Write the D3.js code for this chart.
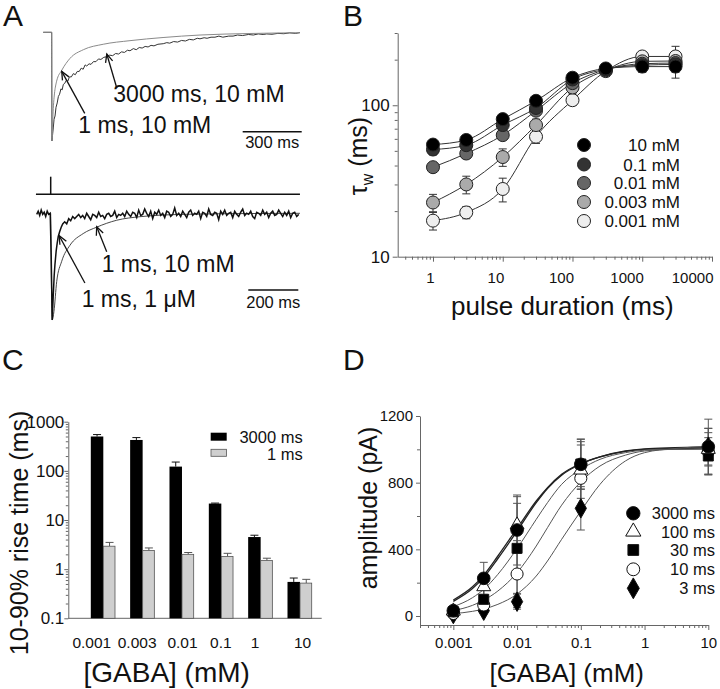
<!DOCTYPE html>
<html>
<head>
<meta charset="utf-8">
<script src="https://cdn.jsdelivr.net/npm/d3@7"></script>
<style>
  body { margin: 0; background: #fff; }
  svg { font-family: "Liberation Sans", Arial, Helvetica, sans-serif; }
</style>
</head>
<body>
<svg id="fig" width="720" height="689"></svg>
<script>
////////////////////////////////////////////////////////////////////////
// Data

// Panel A - traces, [time (ms), downward deflection in % of peak]
let traceTopFast = [[-43,0],[0,0],[1,100],[8,70],[25,45],[51,35],[93,24],[161,16],[262,11],
  [398,7.7],[566,4.8],[754,2.5],[1008,1.1],[1262,0.4]];
let traceTopSlow = [[-43,0],[0,0],[1,100],[4,95],[8,88],[12,80],[17,77],[22,69],[28,65],[34,59],
  [40,57],[47,52],[53,53],[59,48],[66,47],[75,44],[82,45],[90,41],[100,41],[110,38],[120,39],
  [130,36],[140,36],[150,33],[160,34],[170,30],[178,31],[190,29],[200,29.5],[212,27],[225,27],
  [238,24.5],[250,25],[265,23],[280,22.5],[295,21],[310,21.5],[325,19.5],[340,20],[355,18],
  [370,18.5],[385,16.5],[398,17],[415,15],[430,16],[445,14],[460,14.5],[475,13],[490,13.5],
  [505,12],[520,12.5],[540,11],[567,10.5],[585,9.5],[600,10],[620,8.5],[640,9],[660,7.5],
  [680,8],[700,6.5],[720,7],[740,5.5],[754,6],[775,5],[790,5.5],[810,4.5],[830,4.5],[850,3.5],
  [870,4.5],[900,3.5],[922,3.5],[945,2.5],[970,3],[1000,2],[1025,2.5],[1050,1.5],[1075,2],
  [1093,1.5],[1120,1.8],[1150,1],[1180,1.3],[1210,0.5],[1240,1],[1262,0.3]];

let traceBotOnset = [[-56,1],[-50,-2],[-44,2],[-38,-3],[-32,1],[-26,-1],[-20,3],[-14,-2],[-8,1],
  [-2,0],[2,40],[6,100],[10,78],[14,58],[17,48],[22,35],[26,28],[30,22],[36,17],[42,13],[48,10],
  [56,8],[64,10],[72,5],[80,7],[88,3],[96,5]];
// noisy tail, one sample every 8 ms from 104 ms
let tailStart = 104;
let tailStep = 8;
let traceBotTail = [3,1,4,2,5,0,3,6,1,2,4,-1,3,2,5,1,0,3,2,-2,4,1,2,0,3,
  -2,1,3,-1,0,4,-3,2,1,-4,0,3,-2,5,-1,1,-3,2,0,4,
  -2,-1,3,1,-5,2,0,3,-2,1,4,-1,-3,2,0,1,-2,5,-1,0,
  3,-4,1,2,-1,0,6,-2,1,-3,2,0,-1,4,-2,1,3,-1,-4,2,
  0,1,-2,3,5,-1,0,2,-3,1,-1,4,0,-2,2,1,-3,0,3,-1,
  2,-2,4,0,-1,3,1];
let traceBotSmooth = [[0,0],[6,100],[13,92],[24,64],[44,45],[77,30],[130,19],[184,13],[264,6.5],
  [357,3.2],[449,1.6],[597,0.7],[800,0.2],[997,0]];
let stimBot = [-59, 997];

// Panel B - tau_w vs pulse duration
let pulseDur = [1, 3, 10, 30, 100, 300, 1000, 3000];
let gabaB = ["10 mM", "0.1 mM", "0.01 mM", "0.003 mM", "0.001 mM"];
let tauW = [
  [55, 59, 81, 107, 152, 175, 180, 180],
  [51, 54.5, 74, 96, 148, 173, 184, 186],
  [39, 48, 63.5, 92, 140, 172, 188, 190],
  [22.8, 30, 45.5, 74, 131, 170, 195, 196],
  [17.3, 19.6, 28, 62, 108, 168, 210, 210]
];
let tauErr = [
  [4, 4, 5, 6, 8, 12, 15, 15],
  [4, 5, 6, 7, 10, 15, 18, 35],
  [3, 3, 4, 6, 10, 15, 15, 20],
  [3, 4, 6, 7, 12, 15, 15, 25],
  [2.3, 1.8, 5, 6, 8, 12, 15, 35]
];
let fillB = ["#000", "#333", "#666", "#aaa", "#eee"];

// Panel C - rise times
let concC = ["0.001", "0.003", "0.01", "0.1", "1", "10"];
let rise3000 = [500, 425, 122, 21.6, 4.5, 0.55];
let rise3000Err = [47, 50, 29, 0.5, 0.4, 0.11];
let rise1 = [2.93, 2.4, 2.0, 1.81, 1.5, 0.52];
let rise1Err = [0.57, 0.3, 0.18, 0.29, 0.17, 0.1];

// Panel D - amplitude vs [GABA]
let concD = [0.001, 0.003, 0.01, 0.1, 10];
let pulseD = ["3000 ms", "100 ms", "30 ms", "10 ms", "3 ms"];
let ampD = [
  [32, 226, 516, 910, 1016],
  [30, 176, 546, 876, 1000],
  [25, 100, 406, 912, 960],
  [15, 66, 252, 826, 986],
  [12, 32, 86, 646, 1016]
];
let ampErr = [
  [10, 96, 210, 150, 110],
  [10, 80, 170, 170, 100],
  [10, 60, 270, 150, 110],
  [8, 40, 200, 200, 140],
  [6, 15, 45, 130, 165]
];
let fitConc = [0.001, 0.002, 0.003, 0.005, 0.01, 0.02, 0.03, 0.05, 0.1, 0.2, 0.5, 1, 3, 10];
let fitD = [
  [96, 175, 245, 360, 525, 690, 770, 850, 915, 955, 990, 1003, 1010, 1015],
  [88, 165, 232, 345, 510, 680, 765, 845, 912, 955, 988, 1000, 1005, 1008],
  [56, 110, 160, 250, 405, 580, 680, 790, 880, 940, 980, 995, 1000, 1002],
  [32, 64, 95, 150, 260, 420, 530, 665, 805, 900, 965, 990, 1000, 1002],
  [14, 28, 42, 70, 132, 240, 330, 460, 630, 790, 930, 980, 1005, 1018]
];

////////////////////////////////////////////////////////////////////////
// helpers

let svg = d3.select("#fig");
let axisColor = "#666";

function isDecade(d) {
  let l = Math.log10(d);
  return Math.abs(l - Math.round(l)) < 1e-6;
}

// style an axis group: grey lines, dark text
function styleAxis(g, fontSize) {
  g.attr("font-family", null).attr("font-size", fontSize).attr("color", "#111");
  g.select(".domain").attr("stroke", axisColor);
  g.selectAll(".tick line").attr("stroke", axisColor);
}

// log axis with short minor ticks
function logAxis(g, axisFn, scale, major, minor, pad, fontSize, fmt) {
  let ax = axisFn(scale).tickValues(scale.ticks()).tickSize(major).tickSizeOuter(0)
    .tickPadding(pad).tickFormat(d => isDecade(d) ? fmt(d) : "");
  g.call(ax);
  styleAxis(g, fontSize);
  let minorTicks = g.selectAll(".tick").filter(d => !isDecade(d)).select("line");
  if (axisFn === d3.axisLeft) minorTicks.attr("x2", -minor);
  else minorTicks.attr("y2", minor);
}

function arrow(x2, y2, dx, dy) {
  // head at (x2,y2), tail offset by (dx,dy)
  let x1 = x2 + dx, y1 = y2 + dy;
  let a = Math.atan2(y2 - y1, x2 - x1);
  let L = 9;
  let g = svg.append("g").attr("stroke", "#111").attr("stroke-width", 1.3).attr("fill", "none");
  g.append("line").attr("x1", x1).attr("y1", y1).attr("x2", x2).attr("y2", y2);
  g.append("path").attr("d",
    "M" + (x2 - L * Math.cos(a - 0.42)) + "," + (y2 - L * Math.sin(a - 0.42)) +
    "L" + x2 + "," + y2 +
    "L" + (x2 - L * Math.cos(a + 0.42)) + "," + (y2 - L * Math.sin(a + 0.42)));
}

function label(x, y, txt, size, anchor) {
  return svg.append("text").attr("x", x).attr("y", y).attr("font-size", size)
    .attr("text-anchor", anchor || "start").attr("fill", "#111").text(txt);
}

////////////////////////////////////////////////////////////////////////
// Panel letters
label(3, 26, "A", 30);
label(343, 26, "B", 30);
label(2, 370, "C", 30);
label(343, 370, "D", 30);

////////////////////////////////////////////////////////////////////////
// Panel A

let xTop = d3.scaleLinear().domain([0, 1000]).range([51.7, 248.4]);
let yTop = d3.scaleLinear().domain([0, 100]).range([32.3, 141]);
let lineTop = d3.line().x(d => xTop(d[0])).y(d => yTop(d[1]));

svg.append("path").datum(traceTopSlow).attr("d", lineTop)
  .attr("fill", "none").attr("stroke", "#333").attr("stroke-width", 1);
svg.append("path").datum(traceTopFast).attr("d", lineTop.curve(d3.curveMonotoneX))
  .attr("fill", "none").attr("stroke", "#8a8a8a").attr("stroke-width", 1);

arrow(xTop(51), yTop(36), 23, 42);
arrow(xTop(280), yTop(20), 10, 34);
label(113.3, 101.7, "3000 ms, 10 mM", 23);
label(78.3, 133.3, "1 ms, 10 mM", 23);

// 300 ms scale bar
let barTop = xTop(300) - xTop(0);
svg.append("line").attr("x1", 301.7 - barTop).attr("x2", 301.7).attr("y1", 131.7).attr("y2", 131.7)
  .attr("stroke", "#111").attr("stroke-width", 1.6);
label(301.7 - barTop / 2, 148.3, "300 ms", 16.5, "middle");

// lower traces
let xBot = d3.scaleLinear().domain([0, 1000]).range([50.7, 300.7]);
let yBot = d3.scaleLinear().domain([0, 100]).range([213.3, 320]);
let lineBot = d3.line().x(d => xBot(d[0])).y(d => yBot(d[1]));

// stimulus marker
svg.append("line").attr("x1", xBot(stimBot[0])).attr("x2", xBot(stimBot[1]))
  .attr("y1", 194.3).attr("y2", 194.3).attr("stroke", "#111").attr("stroke-width", 1.5);
svg.append("line").attr("x1", xBot(0)).attr("x2", xBot(0))
  .attr("y1", 176.7).attr("y2", 194.3).attr("stroke", "#111").attr("stroke-width", 1.5);

svg.append("path").datum(traceBotSmooth).attr("d", d3.line().x(d => xBot(d[0])).y(d => yBot(d[1])).curve(d3.curveMonotoneX))
  .attr("fill", "none").attr("stroke", "#333").attr("stroke-width", 0.9);

let noisyBot = traceBotOnset.concat(traceBotTail.map((v, i) => [tailStart + i * tailStep, v]));
svg.append("path").datum(noisyBot).attr("d", lineBot)
  .attr("fill", "none").attr("stroke", "#111").attr("stroke-width", 1.5);

arrow(xBot(184), yBot(12.6), 10, 25);
arrow(xBot(34), yBot(21), 25.7, 47.3);
label(101.7, 271.7, "1 ms, 10 mM", 23);
label(81.7, 307.3, "1 ms, 1 \u03bcM", 23);

let barBot = xBot(200) - xBot(0);
svg.append("line").attr("x1", 298.3 - barBot).attr("x2", 298.3).attr("y1", 290).attr("y2", 290)
  .attr("stroke", "#111").attr("stroke-width", 1.6);
label(298.3 - barBot / 2, 308.3, "200 ms", 16.5, "middle");

////////////////////////////////////////////////////////////////////////
// Panel B

let xB = d3.scaleLog().domain([0.312, 10000]).range([397.7, 712]);
let yB = d3.scaleLog().domain([10, 300]).range([256.7, 33]);

let gxB = svg.append("g").attr("transform", "translate(0,256.7)");
logAxis(gxB, d3.axisBottom, xB, 5, 3, 11, 15, d3.format("~g"));
gxB.selectAll(".tick text").attr("text-anchor", "end").attr("dx", 1);

let gyB = svg.append("g").attr("transform", "translate(397.7,0)");
logAxis(gyB, d3.axisLeft, yB, 5, 3, 3, 17, d3.format("~g"));

let lineB = d3.line().x(d => xB(d[0])).y(d => yB(d[1])).curve(d3.curveMonotoneX);
let order = [4, 3, 2, 1, 0];

order.forEach(s => {
  let pts = pulseDur.map((p, i) => [p, tauW[s][i]]);
  svg.append("path").datum(pts).attr("d", lineB)
    .attr("fill", "none").attr("stroke", "#333").attr("stroke-width", 1);
});

order.forEach(s => {
  let g = svg.append("g").attr("stroke", "#333").attr("stroke-width", 1);
  pulseDur.forEach((p, i) => {
    let x = xB(p), lo = yB(tauW[s][i] - tauErr[s][i]), hi = yB(tauW[s][i] + tauErr[s][i]);
    g.append("line").attr("x1", x).attr("x2", x).attr("y1", lo).attr("y2", hi);
    g.append("line").attr("x1", x - 4).attr("x2", x + 4).attr("y1", lo).attr("y2", lo);
    g.append("line").attr("x1", x - 4).attr("x2", x + 4).attr("y1", hi).attr("y2", hi);
  });
});

order.forEach(s => {
  svg.append("g").selectAll("circle")
    .data(pulseDur.map((p, i) => [p, tauW[s][i]]))
    .enter()
    .append("circle")
    .attr("cx", d => xB(d[0]))
    .attr("cy", d => yB(d[1]))
    .attr("r", 6.5)
    .attr("fill", fillB[s])
    .attr("stroke", "#222")
    .attr("stroke-width", 1);
});

// legend
let legYB = [145, 164.5, 183, 202, 221];
gabaB.forEach((name, s) => {
  svg.append("circle").attr("cx", 584).attr("cy", legYB[s]).attr("r", 6.5)
    .attr("fill", fillB[s]).attr("stroke", "#222");
  label(680, legYB[s] + 6, name, 17, "end");
});

// axis titles
let tB = svg.append("text").attr("transform", "translate(367,156) rotate(-90)")
  .attr("text-anchor", "middle").attr("font-size", 25).attr("fill", "#111");
tB.append("tspan").text("\u03c4");
tB.append("tspan").attr("font-size", 16).attr("dy", 6).text("w");
tB.append("tspan").attr("dy", -6).text(" (ms)");
label(562.3, 315, "pulse duration (ms)", 26, "middle");

////////////////////////////////////////////////////////////////////////
// Panel C

let xC = d3.scalePoint().domain(concC).range([103.3, 300]);
let yC = d3.scaleLog().domain([0.1, 1000]).range([618.3, 421.7]);
let barW = 12.5;
let labelShiftC = [-12, -6, 0, -1, -6, 2];

let gyC = svg.append("g").attr("transform", "translate(68.3,0)");
logAxis(gyC, d3.axisLeft, yC, 4, 2.5, 0, 17, d3.format("~g"));

svg.append("line").attr("x1", 68.3).attr("x2", 321.7).attr("y1", yC(0.1)).attr("y2", yC(0.1))
  .attr("stroke", axisColor);

let gxC = svg.append("g").attr("transform", "translate(0," + yC(0.1) + ")")
  .call(d3.axisBottom(xC).tickSize(0).tickPadding(0));
styleAxis(gxC, 15.5);
gxC.select(".domain").remove();
gxC.selectAll(".tick text").attr("y", 30).attr("dy", 0).attr("dx", (d, i) => labelShiftC[i]);

// error bars (upper only)
function errUp(x, v, e, color) {
  let g = svg.append("g").attr("stroke", color).attr("stroke-width", 1);
  g.append("line").attr("x1", x).attr("x2", x).attr("y1", yC(v)).attr("y2", yC(v + e));
  g.append("line").attr("x1", x - 4).attr("x2", x + 4).attr("y1", yC(v + e)).attr("y2", yC(v + e));
}
concC.forEach((c, i) => {
  errUp(xC(c) - barW / 2, rise3000[i], rise3000Err[i], "#111");
  errUp(xC(c) + barW / 2, rise1[i], rise1Err[i], "#555");
});

svg.append("g").selectAll("rect")
  .data(concC)
  .enter()
  .append("rect")
  .attr("x", d => xC(d) - barW)
  .attr("y", (d, i) => yC(rise3000[i]))
  .attr("width", barW)
  .attr("height", (d, i) => yC(0.1) - yC(rise3000[i]))
  .attr("fill", "#000");

svg.append("g").selectAll("rect")
  .data(concC)
  .enter()
  .append("rect")
  .attr("x", d => xC(d))
  .attr("y", (d, i) => yC(rise1[i]))
  .attr("width", barW - 0.8)
  .attr("height", (d, i) => yC(0.1) - yC(rise1[i]))
  .attr("fill", "#cfcfcf")
  .attr("stroke", "#555")
  .attr("stroke-width", 0.8);

// legend
svg.append("rect").attr("x", 210.7).attr("y", 432.7).attr("width", 16).attr("height", 8).attr("fill", "#000");
svg.append("rect").attr("x", 211).attr("y", 449.3).attr("width", 15.5).attr("height", 7)
  .attr("fill", "#cfcfcf").attr("stroke", "#555").attr("stroke-width", 0.8);
label(302.7, 443, "3000 ms", 16.5, "end");
label(302.7, 460, "1 ms", 16.5, "end");

svg.append("text").attr("transform", "translate(28,533) rotate(-90)")
  .attr("text-anchor", "middle").attr("font-size", 25).attr("fill", "#111")
  .text("10-90% rise time (ms)");
label(166.7, 682, "[GABA] (mM)", 28, "middle");

////////////////////////////////////////////////////////////////////////
// Panel D

let xD = d3.scaleLog().domain([0.0003, 10]).range([420, 708.3]);
let yD = d3.scaleLinear().domain([-54, 1200]).range([625, 416]);

let gxD = svg.append("g").attr("transform", "translate(0,625)");
logAxis(gxD, d3.axisBottom, xD, 5, 3, 0, 15, d3.format("~g"));
gxD.selectAll(".tick text").attr("y", 23.3).attr("dy", 0);

let gyD = svg.append("g").attr("transform", "translate(420,0)")
  .call(d3.axisLeft(yD).tickValues([0, 200, 400, 600, 800, 1000, 1200]).tickSize(4)
    .tickSizeOuter(0).tickPadding(3).tickFormat(d => d % 400 === 0 ? d : ""));
styleAxis(gyD, 15);
gyD.selectAll(".tick").filter(d => d % 400 !== 0).select("line").attr("x2", -3);

let lineD = d3.line().x(d => xD(d[0])).y(d => yD(d[1])).curve(d3.curveMonotoneX);
fitD.forEach((f, s) => {
  svg.append("path").datum(fitConc.map((c, i) => [c, f[i]])).attr("d", lineD)
    .attr("fill", "none").attr("stroke", s < 2 ? "#222" : "#555").attr("stroke-width", s < 2 ? 1.3 : 1);
});

ampD.forEach((row, s) => {
  let g = svg.append("g").attr("stroke", "#555").attr("stroke-width", 1);
  concD.forEach((c, i) => {
    let x = xD(c), lo = yD(row[i] - ampErr[s][i]), hi = yD(row[i] + ampErr[s][i]);
    g.append("line").attr("x1", x).attr("x2", x).attr("y1", lo).attr("y2", hi);
    g.append("line").attr("x1", x - 4).attr("x2", x + 4).attr("y1", lo).attr("y2", lo);
    g.append("line").attr("x1", x - 4).attr("x2", x + 4).attr("y1", hi).attr("y2", hi);
  });
});

let symD = [
  { type: d3.symbolCircle, size: 125, fill: "#000" },
  { type: d3.symbolTriangle, size: 85, fill: "#fff" },
  { type: d3.symbolSquare, size: 100, fill: "#000" },
  { type: d3.symbolCircle, size: 115, fill: "#fff" },
  { type: d3.symbolDiamond, size: 110, fill: "#000" }
];
let drawOrder = [4, 3, 2, 1, 0];
drawOrder.forEach(s => {
  svg.append("g").selectAll("path")
    .data(concD.map((c, i) => [c, ampD[s][i]]))
    .enter()
    .append("path")
    .attr("transform", d => "translate(" + xD(d[0]) + "," + yD(d[1]) + ")")
    .attr("d", d3.symbol().type(symD[s].type).size(symD[s].size))
    .attr("fill", symD[s].fill)
    .attr("stroke", "#111")
    .attr("stroke-width", 1);
});

let legYD = [513.3, 531.7, 550, 569.3, 588.3];
pulseD.forEach((name, s) => {
  svg.append("path").attr("transform", "translate(633.3," + legYD[s] + ")")
    .attr("d", d3.symbol().type(symD[s].type).size(symD[s].size + 15))
    .attr("fill", symD[s].fill).attr("stroke", "#111");
  label(715, legYD[s] + 6, name, 16.5, "end");
});

svg.append("text").attr("transform", "translate(377,508) rotate(-90)")
  .attr("text-anchor", "middle").attr("font-size", 25).attr("fill", "#111")
  .text("amplitude (pA)");
label(566.7, 682, "[GABA] (mM)", 26, "middle");
</script>
</body>
</html>
